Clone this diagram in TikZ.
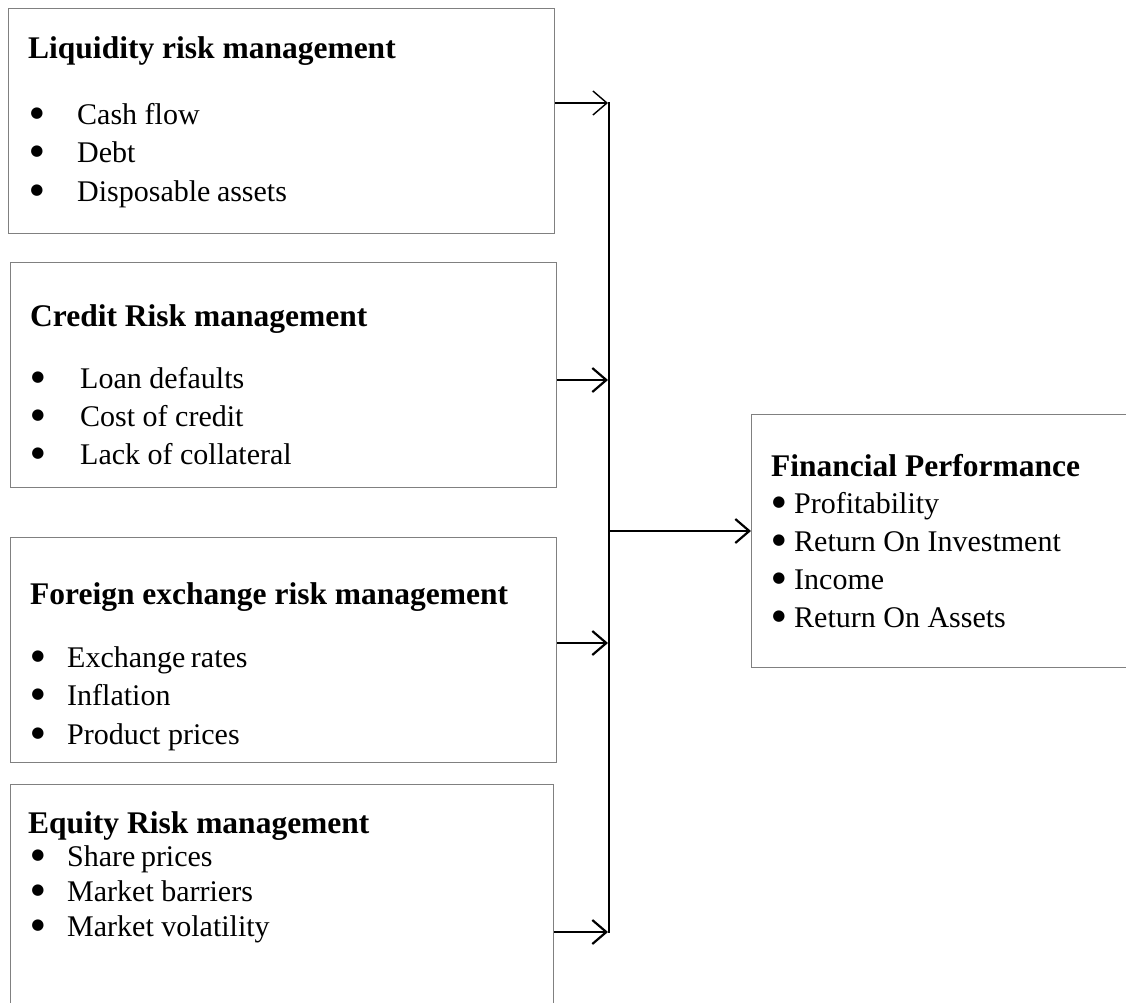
\documentclass[tikz,border=0pt]{standalone}
\usepackage{fontspec}
\setmainfont{Liberation Serif}
\newfontfamily\bulfont{DejaVu Sans}
\usetikzlibrary{arrows.meta}
\tikzset{
  box/.style={draw=black!50, line width=1.3pt, rectangle, inner sep=0pt, anchor=north west},
  ttl/.style={anchor=base west, inner sep=0pt, font=\fontsize{31.5}{36}\selectfont\bfseries},
  itm/.style={anchor=base west, inner sep=0pt, font=\fontsize{30}{36}\selectfont},
  bul/.style={anchor=center, inner sep=0pt, font=\bulfont\fontsize{15}{16}\selectfont},
  conn/.style={line width=2.2pt, -{Straight Barb[length=14pt,width=24pt]}},
  thinconn/.style={line width=1.4pt, -{Straight Barb[length=14pt,width=24pt]}},
  bus/.style={line width=2.4pt}
}
\begin{document}
\begin{tikzpicture}[x=1pt,y=-1pt]
\useasboundingbox (0,0) rectangle (1126,1002);
\clip (0,0) rectangle (1126,1002);
\fill[white] (0,0) rectangle (1126,1002);

% boxes
\node[box, minimum width=546pt, minimum height=225pt] (b1) at (8,8) {};
\node[box, minimum width=546pt, minimum height=225pt] (b2) at (10,262) {};
\node[box, minimum width=546pt, minimum height=225pt] (b3) at (10,537) {};
\node[box, minimum width=543pt, minimum height=240pt] (b4) at (10,784) {};
\node[box, minimum width=400pt, minimum height=253pt] (fp) at (751,414) {};

% box 1
\node[ttl] (t1) at (28,58) {Liquidity risk management};
\node[bul] (p11) at (37,114) {●};
\node[itm] (i11) at (77,124) {Cash flow};
\node[bul] (p12) at (37,152) {●};
\node[itm] (i12) at (77,162) {Debt};
\node[bul] (p13) at (37,191) {●};
\node[itm] (i13) at (77,201) {Disposable\kern-1pt\ assets};

% box 2
\node[ttl] (t2) at (30,326) {Credit Risk management};
\node[bul] (p21) at (38,378) {●};
\node[itm] (i21) at (80,388) {Loan defaults};
\node[bul] (p22) at (38,416) {●};
\node[itm] (i22) at (80,426) {Cost of credit};
\node[bul] (p23) at (38,454) {●};
\node[itm] (i23) at (80,464) {Lack of collateral};

% box 3
\node[ttl] (t3) at (30,604) {Foreign exchange risk management};
\node[bul] (p31) at (38,657) {●};
\node[itm] (i31) at (67,667) {Exchange\kern-2pt\ rates};
\node[bul] (p32) at (38,695) {●};
\node[itm] (i32) at (67,705) {Inflation};
\node[bul] (p33) at (38,734) {●};
\node[itm] (i33) at (67,744) {Product prices};

% box 4
\node[ttl] (t4) at (28,833) {Equity Risk management};
\node[bul] (p41) at (38,856) {●};
\node[itm] (i41) at (67,866) {Share\kern-2pt\ prices};
\node[bul] (p42) at (38,891) {●};
\node[itm] (i42) at (67,901) {Market barriers};
\node[bul] (p43) at (38,926) {●};
\node[itm] (i43) at (67,936) {Market volatility};

% financial performance
\node[ttl] (tf) at (771,476) {Financial Performance};
\node[bul] (q1) at (779,503) {●};
\node[itm] (f1) at (794,513) {Profitability};
\node[bul] (q2) at (779,541) {●};
\node[itm] (f2) at (794,551) {Return On Investment};
\node[bul] (q3) at (779,579) {●};
\node[itm] (f3) at (794,589) {Income};
\node[bul] (q4) at (779,617) {●};
\node[itm] (f4) at (794,627) {Return On Assets};

% bus
\coordinate (j1) at (608,103);
\coordinate (j2) at (608,380);
\coordinate (j3) at (608,643);
\coordinate (j4) at (608,932);
\coordinate (jm) at (609,531);
\draw[bus] (609,102) coordinate (btop) -- (609,933) coordinate (bbot);

\draw[thinconn] (b1.east |- j1) -- (j1);
\draw[conn] (b2.east |- j2) -- (j2);
\draw[conn] (b3.east |- j3) -- (j3);
\draw[conn] (b4.east |- j4) -- (j4);
\draw[conn] (jm) -- (fp.west |- jm);
\end{tikzpicture}
\end{document}
